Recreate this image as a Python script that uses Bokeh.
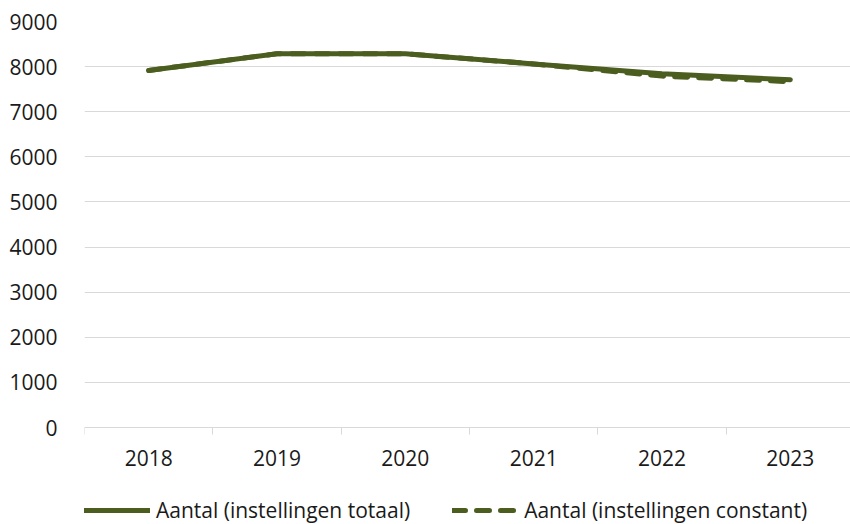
from bokeh.plotting import figure
from bokeh.models import Range1d, FixedTicker, Legend, LegendItem, ColumnDataSource
from bokeh.embed import file_html
from bokeh.resources import INLINE

years = ["2018", "2019", "2020", "2021", "2022", "2023"]
totaal = [7915, 8285, 8285, 8060, 7840, 7710]
constant = [7915, 8285, 8285, 8060, 7790, 7665]
y_ticks = [0, 1000, 2000, 3000, 4000, 5000, 6000, 7000, 8000, 9000]
label_totaal = "Aantal (instellingen totaal)"
label_constant = "Aantal (instellingen constant)"

FONT = "Open Sans"
GREEN = "#4b5e1f"
TEXT = "#1a1a1a"
GRID = "#d9d9d9"

xpos = [i + 0.5 for i in range(len(years))]
src = ColumnDataSource(dict(x=xpos, totaal=totaal, constant=constant))

# frame extends to the bottom of the page so the legend can sit inside it;
# the x axis is pinned at y = 0
p = figure(width=850, height=524, output_backend="svg", toolbar_location=None,
           x_range=Range1d(0, len(years) * 766 / 770), y_range=Range1d(-2150, 9000),
           min_border_left=84, min_border_right=0, min_border_top=21, min_border_bottom=0)
p.outline_line_color = None
p.background_fill_color = "white"
p.border_fill_color = "white"

r_const = p.line("x", "constant", source=src, line_color=GREEN, line_width=5,
                 line_dash="13 11", line_cap="round", line_join="round")
r_tot = p.line("x", "totaal", source=src, line_color=GREEN, line_width=5,
               line_cap="round", line_join="round")

# x axis
p.xaxis.fixed_location = 0
p.xaxis.ticker = FixedTicker(ticks=xpos, minor_ticks=list(range(len(years) + 1)))
p.xaxis.major_label_overrides = {x: y for x, y in zip(xpos, years)}
p.xaxis.major_tick_out = 0
p.xaxis.major_tick_in = 0
p.xaxis.minor_tick_out = 7
p.xaxis.minor_tick_in = 0
p.xaxis.minor_tick_line_color = GRID
p.xaxis.axis_line_color = GRID
p.xaxis.axis_line_width = 1
p.xaxis.major_label_standoff = 15
p.xaxis.major_label_text_font = FONT
p.xaxis.major_label_text_font_size = "21px"
p.xaxis.major_label_text_color = TEXT

# y axis
p.yaxis.ticker = FixedTicker(ticks=y_ticks)
p.yaxis.axis_line_color = None
p.yaxis.major_tick_line_color = None
p.yaxis.minor_tick_line_color = None
p.yaxis.major_label_standoff = 21
p.yaxis.major_label_text_font = FONT
p.yaxis.major_label_text_font_size = "21px"
p.yaxis.major_label_text_color = TEXT

p.xgrid.grid_line_color = None
p.ygrid.grid_line_color = GRID
p.ygrid.grid_line_width = 1

legend = Legend(items=[LegendItem(label=label_totaal, renderers=[r_tot]),
                       LegendItem(label=label_constant, renderers=[r_const])],
                orientation="horizontal", location=(0, 0))
legend.border_line_color = None
legend.background_fill_alpha = 0
legend.label_text_font = FONT
legend.label_text_font_size = "21px"
legend.label_text_color = TEXT
legend.glyph_width = 66
legend.glyph_height = 20
legend.label_standoff = 6
legend.spacing = 42
legend.padding = 0
legend.margin = 0
p.add_layout(legend, "center")

open("out.html", "w").write(file_html(p, INLINE))
